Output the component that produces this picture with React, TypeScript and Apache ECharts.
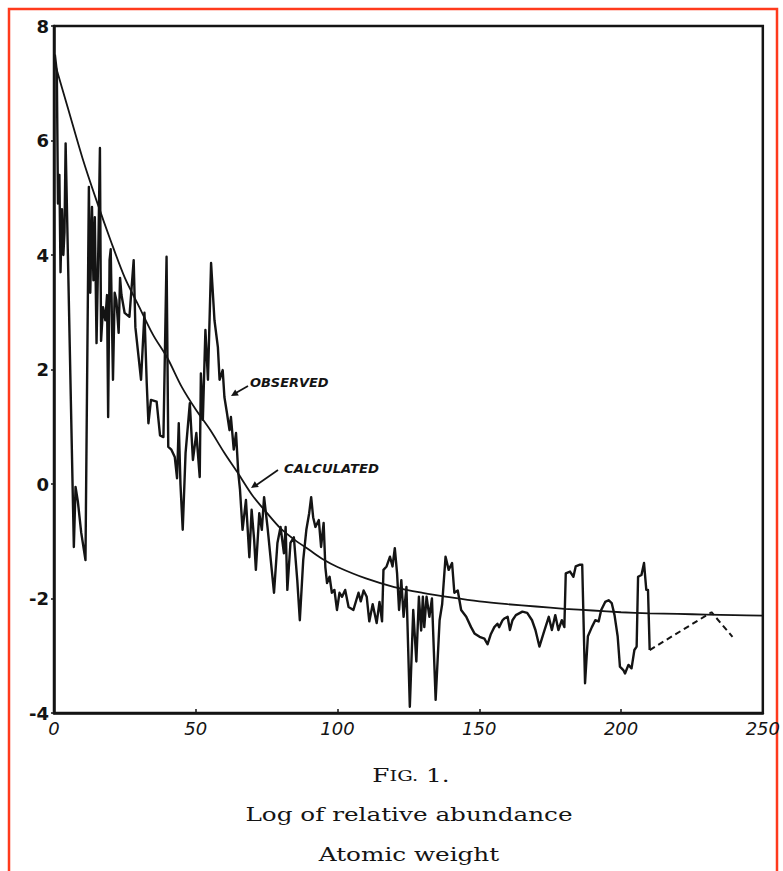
import React, { useEffect, useRef } from "react";
import * as echarts from "echarts";

// Observed log relative abundance vs atomic weight (traced)
const obsX = [
  0.3, 1.0, 1.4, 1.9, 2.3, 2.8, 3.3, 3.7, 4.1, 7.0, 7.6, 8.4, 9.6, 11.1, 12.3, 12.8, 13.4, 13.9, 14.4, 15.0,
  15.6, 16.2, 16.6, 17.3, 18.1, 18.7, 19.1, 19.6, 20.0, 20.8, 21.4, 22.0, 22.8, 23.3, 23.8, 24.9, 26.6, 28.1, 28.7, 30.7,
  31.9, 32.7, 33.3, 34.2, 36.2, 37.4, 38.6, 39.7, 40.3, 41.4, 42.6, 43.4, 44.0, 44.6, 45.4, 46.4, 47.9, 49.0, 50.2, 51.4,
  51.8, 52.5, 53.4, 54.3, 55.4, 56.6, 57.8, 58.4, 59.5, 60.1, 61.0, 61.9, 62.4, 63.4, 64.2, 65.0, 65.6, 66.5, 67.7, 68.9,
  69.7, 70.6, 71.2, 72.4, 73.3, 74.1, 75.3, 77.6, 78.8, 79.9, 81.1, 81.7, 82.3, 83.4, 84.6, 85.8, 86.7, 87.9, 89.0, 90.0,
  90.7, 91.4, 92.2, 93.4, 94.2, 95.1, 95.7, 96.3, 97.2, 98.0, 98.9, 99.8, 100.7, 101.6, 102.7, 103.9, 105.6, 107.4, 108.2, 109.2,
  110.3, 111.2, 112.4, 113.8, 114.8, 115.7, 116.2, 117.3, 118.5, 119.4, 120.2, 121.0, 121.7, 122.5, 123.3, 124.3, 125.5, 126.7, 127.8, 128.7,
  129.5, 130.1, 130.6, 131.4, 132.4, 133.3, 134.6, 136.0, 136.9, 138.1, 139.2, 140.4, 141.2, 142.4, 143.6, 145.4, 147.1, 148.3, 150.1, 151.8,
  152.9, 154.1, 155.3, 156.4, 157.0, 158.2, 158.8, 160.0, 160.8, 161.7, 162.9, 165.2, 166.9, 168.6, 169.8, 171.2, 172.7, 174.5, 175.6, 176.8,
  177.9, 179.1, 180.0, 180.5, 182.0, 183.2, 184.0, 185.5, 186.3, 187.3, 188.3, 189.7, 190.9, 192.1, 193.0, 194.4, 195.6, 196.7, 197.7, 198.8,
  199.6, 200.8, 201.4, 202.6, 203.7, 204.7, 205.5, 206.0, 207.2, 208.1, 208.9, 209.5, 210.1,
];
const obsY = [
  7.5, 7.2, 4.9, 5.4, 3.7, 4.8, 4.0, 4.4, 5.95, -1.1, -0.05, -0.3, -0.85, -1.33, 5.19, 3.34, 4.84, 3.56, 4.66, 2.46,
  4.03, 5.87, 2.5, 3.09, 2.86, 3.3, 1.17, 3.91, 4.1, 1.82, 3.34, 3.21, 2.64, 3.6, 3.3, 2.99, 2.92, 3.91, 2.74, 1.82,
  2.99, 1.77, 1.06, 1.47, 1.44, 0.85, 0.82, 3.97, 0.65, 0.6, 0.47, 0.1, 1.06, 0.0, -0.8, 0.54, 1.41, 0.42, 0.89, 0.12,
  1.93, 1.12, 2.69, 1.82, 3.86, 2.86, 2.39, 1.82, 1.99, 1.52, 1.24, 0.94, 1.17, 0.6, 0.89, 0.19, -0.1, -0.8, -0.28, -1.28,
  -0.45, -0.98, -1.5, -0.51, -0.8, -0.23, -0.75, -1.9, -1.03, -0.75, -1.21, -0.75, -1.85, -1.03, -0.93, -1.68, -2.38, -1.33, -0.8, -0.51,
  -0.23, -0.58, -0.75, -0.63, -1.1, -0.68, -1.45, -1.73, -1.62, -1.9, -1.85, -2.2, -1.9, -1.97, -1.85, -2.15, -2.2, -1.9, -2.05, -1.86,
  -1.97, -2.4, -2.1, -2.43, -2.06, -2.4, -1.5, -1.44, -1.27, -1.44, -1.12, -1.56, -2.2, -1.68, -2.32, -1.8, -3.89, -2.2, -3.1, -1.97,
  -2.56, -1.97, -2.5, -1.97, -2.32, -2.0, -3.77, -2.38, -2.1, -1.27, -1.5, -1.38, -1.9, -1.86, -2.2, -2.32, -2.5, -2.61, -2.67, -2.7,
  -2.8, -2.62, -2.5, -2.44, -2.5, -2.38, -2.35, -2.32, -2.55, -2.38, -2.29, -2.23, -2.25, -2.38, -2.55, -2.84, -2.6, -2.32, -2.55, -2.29,
  -2.55, -2.38, -2.5, -1.56, -1.53, -1.62, -1.44, -1.41, -1.41, -3.48, -2.66, -2.5, -2.38, -2.4, -2.2, -2.06, -2.03, -2.08, -2.29, -2.66,
  -3.19, -3.25, -3.31, -3.16, -3.22, -2.9, -2.84, -1.62, -1.59, -1.38, -1.85, -1.85, -2.9,
];

// Dashed extension of the observed curve
const extX = [210.1, 231.9, 239.3];
const extY = [-2.9, -2.24, -2.67];

// Calculated curve
const calcX = [0, 5, 10, 15, 20, 25, 30, 35, 40, 45, 50, 55, 60, 65, 70, 75, 80, 85, 90, 95, 100, 110, 120, 130, 140, 150, 160, 170, 180, 190, 200, 210, 220, 230, 240, 250];
const calcY = [7.4, 6.55, 5.7, 4.95, 4.25, 3.6, 3.1, 2.6, 2.2, 1.7, 1.3, 0.95, 0.55, 0.18, -0.2, -0.5, -0.78, -0.98, -1.15, -1.32, -1.45, -1.65, -1.8, -1.9, -1.98, -2.05, -2.1, -2.14, -2.18, -2.21, -2.24, -2.26, -2.27, -2.28, -2.29, -2.3];

const xTicks = { min: 0, max: 250, interval: 50 };
const yTicks = { min: -4, max: 8, interval: 2 };

const captionLines = ["Log of relative abundance", "Atomic weight"];
const obsLabel = "OBSERVED";
const calcLabel = "CALCULATED";

const zip = (xs: number[], ys: number[]) => xs.map((x, i) => [x, ys[i]]);

export default function App() {
  const ref = useRef<HTMLDivElement>(null);
  useEffect(() => {
    if (!ref.current) return;
    const chart = echarts.init(ref.current, null, { renderer: "svg" });
    const ink = "#141414";
    const annFont = { fontFamily: "DejaVu Sans", fontStyle: "italic", fontWeight: "bold", fontSize: 12, fill: ink };
    const capFont = { fontFamily: "DejaVu Serif", fontSize: 19, fill: ink };
    chart.setOption({
      animation: false,
      backgroundColor: "#ffffff",
      grid: { left: 54, top: 26, right: 13, bottom: 158, show: true, borderColor: ink, borderWidth: 2.5, backgroundColor: "transparent" },
      xAxis: {
        type: "value",
        ...xTicks,
        axisLine: { show: true, onZero: false, lineStyle: { color: ink, width: 2.5 } },
        axisTick: { show: true, inside: true, length: 4, lineStyle: { color: ink, width: 1.5 } },
        splitLine: { show: false },
        axisLabel: { color: ink, fontFamily: "DejaVu Sans", fontStyle: "italic", fontSize: 18, margin: 6 },
      },
      yAxis: {
        type: "value",
        ...yTicks,
        axisLine: { show: true, onZero: false, lineStyle: { color: ink, width: 2.5 } },
        axisTick: { show: true, inside: false, length: 3, lineStyle: { color: ink, width: 1.5 } },
        splitLine: { show: false },
        axisLabel: { color: ink, fontFamily: "DejaVu Sans", fontWeight: "bold", fontSize: 18, margin: 5 },
      },
      series: [
        {
          name: "Observed",
          type: "line",
          data: zip(obsX, obsY),
          showSymbol: false,
          lineStyle: { color: ink, width: 2.4, join: "round" },
          z: 3,
        },
        {
          name: "Observed (extrapolated)",
          type: "line",
          data: zip(extX, extY),
          showSymbol: false,
          lineStyle: { color: ink, width: 2, type: [6, 4] },
        },
        {
          name: "Calculated",
          type: "line",
          data: zip(calcX, calcY),
          showSymbol: false,
          smooth: 0.3,
          lineStyle: { color: ink, width: 1.8 },
        },
      ],
      graphic: [
        { type: "rect", shape: { x: 9, y: 9, width: 768, height: 900 }, style: { fill: "none", stroke: "#ff3a1c", lineWidth: 2.5 }, silent: true },
        { type: "text", x: 250, y: 383, scaleX: 1.08, style: { ...annFont, text: obsLabel, verticalAlign: "middle" } },
        { type: "line", shape: { x1: 248, y1: 386, x2: 234, y2: 394 }, style: { stroke: ink, lineWidth: 1.8 } },
        { type: "polygon", shape: { points: [[231, 396], [238.8, 395.4], [235.2, 389.4]] }, style: { fill: ink } },
        { type: "text", x: 284, y: 469, scaleX: 1.1, style: { ...annFont, text: calcLabel, verticalAlign: "middle" } },
        { type: "line", shape: { x1: 278, y1: 470, x2: 255, y2: 486 }, style: { stroke: ink, lineWidth: 1.8 } },
        { type: "polygon", shape: { points: [[251, 488], [258.8, 487], [254.8, 481.2]] }, style: { fill: ink } },
        {
          type: "text",
          x: 411,
          y: 776,
          scaleX: 1.3,
          style: {
            text: "{a|F}{b|IG.}{a| 1.}",
            align: "center",
            verticalAlign: "middle",
            rich: {
              a: { fontFamily: "DejaVu Serif", fontSize: 19, fill: ink },
              b: { fontFamily: "DejaVu Serif", fontSize: 15, fill: ink },
            },
          },
        },
        { type: "text", x: 409, y: 815, scaleX: 1.3, style: { ...capFont, text: captionLines[0], align: "center", verticalAlign: "middle" } },
        { type: "text", x: 409, y: 855, scaleX: 1.3, style: { ...capFont, text: captionLines[1], align: "center", verticalAlign: "middle" } },
      ],
    });
    return () => chart.dispose();
  }, []);
  return <div ref={ref} style={{ position: "absolute", left: 0, top: 0, width: 783, height: 871 }} />;
}
